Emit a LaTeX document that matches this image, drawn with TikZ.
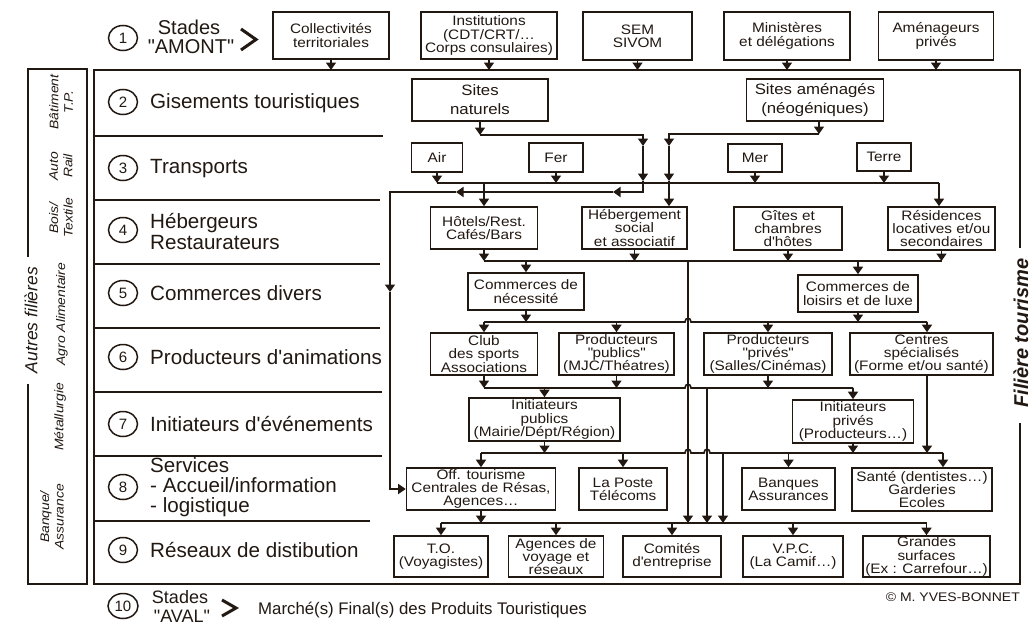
\documentclass[tikz,border=0pt]{standalone}
\usepackage{fontspec}
\setmainfont{Liberation Sans}
\newfontfamily\bxf[FakeStretch=1.12]{Liberation Sans}
\usetikzlibrary{arrows.meta,shapes.geometric}
\definecolor{ink}{RGB}{34,24,18}
\newcommand\apq{\textquotesingle}
\newcommand\dqt{\textquotedbl}
\begin{document}
\begin{tikzpicture}[x=1pt,y=-1pt,line join=miter,
  conn/.style={draw=ink,line width=1.6pt},
  arr/.style={-{Triangle[width=10pt,length=7.5pt]}},
  frame/.style={draw=ink,line width=2.4pt},
  sep/.style={draw=ink,line width=1.5pt},
  bx/.style={draw=ink,line width=1.6pt,inner sep=0pt,align=center,text=ink,
    font=\bxf\fontsize{13.7}{13.3}\selectfont},
  bigbx/.style={bx,font=\bxf\fontsize{15}{19}\selectfont},
  circ/.style={draw=ink,line width=1.5pt,ellipse,minimum width=29pt,minimum height=25pt,
    inner sep=0pt,text=ink,font=\fontsize{15}{15}\selectfont},
  rowlab/.style={anchor=west,inner sep=0pt,text=ink,align=left,
    font=\fontsize{20.6}{20.5}\selectfont},
  stage/.style={inner sep=0pt,text=ink,font=\fontsize{20}{20}\selectfont},
  ind/.style={rotate=90,inner sep=0pt,align=center,text=ink,
    font=\bxf\itshape\fontsize{12.4}{14.5}\selectfont}]
\useasboundingbox (0,0) rectangle (1031,624);
\fill[white] (0,0) rectangle (1031,624);

% horizontal levels of the collector lines
\coordinate (yF) at (0,70);
\coordinate (yN) at (0,135);
\coordinate (yT) at (0,183);
\coordinate (y4) at (0,261);
\coordinate (y5) at (0,322);
\coordinate (y6) at (0,388);
\coordinate (y7) at (0,453);
\coordinate (y8) at (0,523);

% outer frames
\draw[frame] (1020,248) -- (1020,70) -- (94,70) -- (94,584) -- (1020,584) -- (1020,423);
\draw[frame,line width=2pt] (28,257) -- (28,69) -- (87,69) -- (87,584) -- (28,584) -- (28,384);

% row separators
\foreach \y/\xe in {136/383,200/380,264/380,328/380,392/382,456/382,521/370}
  \draw[sep] (94,\y) -- (\xe,\y);

% side titles
\node[rotate=90,inner sep=0pt,text=ink,font=\itshape\fontsize{17.5}{18}\selectfont] (autres) at (31,320) {Autres filières};
\node[rotate=90,inner sep=0pt,text=ink,font=\bfseries\itshape\fontsize{20}{22}\selectfont] (filiere) at (1021,333) {Filière tourisme};

% industry labels
\node[ind] (i1) at (61,102) {Bâtiment\\T.P.};
\node[ind] (i2) at (61,166) {Auto\\Rail};
\node[ind] (i3) at (61,218) {Bois/\\Textile};
\node[ind] (i4) at (62,314) {Agro Alimentaire};
\node[ind] (i5) at (60,417) {Métallurgie};
\node[ind] (i6) at (52,517) {Banque/\\Assurance};

% stage numbers and row titles
\node[circ] (c1) at (123,38) {1};
\node[stage] (am1) at (189,27.5) {Stades};
\node[stage] (am2) at (191,46.5) {\dqt AMONT\dqt};
\draw[ink,line width=3pt] (241,29) -- (256,39.5) -- (241,50);
\node[circ] (c2) at (123,102) {2};
\node[rowlab] (r2) at (150,103) {Gisements touristiques};
\node[circ] (c3) at (123,168) {3};
\node[rowlab] (r3) at (150,169) {Transports};
\node[circ] (c4) at (123,230) {4};
\node[rowlab,font=\fontsize{20.6}{21}\selectfont] (r4) at (150,232) {Hébergeurs\\Restaurateurs};
\node[circ] (c5) at (123,293) {5};
\node[rowlab] (r5) at (150,293) {Commerces divers};
\node[circ] (c6) at (123,357) {6};
\node[rowlab] (r6) at (150,357) {Producteurs d\apq animations};
\node[circ] (c7) at (123,424) {7};
\node[rowlab] (r7) at (150,424) {Initiateurs d\apq événements};
\node[circ] (c8) at (123,487) {8};
\node[rowlab,font=\fontsize{20.6}{20}\selectfont] (r8) at (150,487) {Services\\- Accueil/information\\- logistique};
\node[circ] (c9) at (123,550) {9};
\node[rowlab] (r9) at (150,550) {Réseaux de distibution};
\node[circ,minimum width=30pt] (c10) at (123,606) {10};
\node[stage,font=\fontsize{18}{18}\selectfont] (av1) at (180,597) {Stades};
\node[stage,font=\fontsize{18}{18}\selectfont] (av2) at (182,616) {\dqt AVAL\dqt};
\draw[ink,line width=3pt] (222,600) -- (236,608) -- (222,616);
\node[anchor=west,inner sep=0pt,text=ink,font=\fontsize{16.8}{17}\selectfont] (marche) at (258,610) {Marché(s) Final(s) des Produits Touristiques};
\node[anchor=east,inner sep=0pt,text=ink,font=\bxf\fontsize{12.5}{13}\selectfont] (copy) at (1020,597) {© M. YVES-BONNET};

% upstream actors
\node[bx,minimum width=116pt,minimum height=47pt] (coll) at (331,35.5) {Collectivités\\territoriales};
\node[bx,minimum width=136pt,minimum height=47pt] (inst) at (489,35.5) {Institutions\\(CDT/CRT/…\\Corps consulaires)};
\node[bx,minimum width=109pt,minimum height=48pt] (sem) at (637.5,36) {SEM\\SIVOM};
\node[bx,minimum width=126pt,minimum height=48pt] (mini) at (787,36) {Ministères\\et délégations};
\node[bx,minimum width=115pt,minimum height=48pt] (amenp) at (936,36) {Aménageurs\\privés};

% tourist resources
\node[bigbx,minimum width=136pt,minimum height=42pt] (natur) at (480,100) {Sites\\naturels};
\node[bigbx,minimum width=137pt,minimum height=42pt] (amen2) at (815,100) {Sites aménagés\\(néogéniques)};

% transport
\node[bx,minimum width=51pt,minimum height=29pt] (air) at (437,157.5) {Air};
\node[bx,minimum width=54pt,minimum height=29pt] (fer) at (556,157.5) {Fer};
\node[bx,minimum width=54pt,minimum height=28pt] (mer) at (755,158) {Mer};
\node[bx,minimum width=54pt,minimum height=28pt] (terre) at (884,157) {Terre};

% accommodation
\node[bx,minimum width=107pt,minimum height=42pt] (hotel) at (484,228) {Hôtels/Rest.\\Cafés/Bars};
\node[bx,minimum width=105pt,minimum height=42pt] (hebg) at (634.5,228) {Hébergement\\social\\et associatif};
\node[bx,minimum width=108pt,minimum height=43pt] (gites) at (788,228.5) {Gîtes et\\chambres\\d\apq hôtes};
\node[bx,minimum width=107pt,minimum height=43pt] (resid) at (941.5,228.5) {Résidences\\locatives et/ou\\secondaires};

% trade
\node[bx,minimum width=116pt,minimum height=37pt] (cnec) at (526,291.5) {Commerces de\\nécessité};
\node[bx,minimum width=120pt,minimum height=37pt] (clux) at (858,293.5) {Commerces de\\loisirs et de luxe};

% entertainment producers
\node[bx,minimum width=107pt,minimum height=42pt] (club) at (484,354) {Club\\des sports\\Associations};
\node[bx,minimum width=115pt,minimum height=42pt] (ppub) at (616.5,354) {Producteurs\\\dqt publics\dqt\\(MJC/Théatres)};
\node[bx,minimum width=128pt,minimum height=42pt] (ppriv) at (768,354) {Producteurs\\\dqt privés\dqt\\(Salles/Cinémas)};
\node[bx,minimum width=143pt,minimum height=42pt] (centr) at (921.5,354) {Centres\\spécialisés\\(Forme et/ou santé)};

% event initiators
\node[bx,minimum width=151pt,minimum height=43pt] (ipub) at (544.5,419.5) {Initiateurs\\publics\\(Mairie/Dépt/Région)};
\node[bx,minimum width=121pt,minimum height=43pt] (ipriv) at (853,421.5) {Initiateurs\\privés\\(Producteurs…)};

% services
\node[bx,minimum width=149pt,minimum height=42pt] (offt) at (481,489) {Off. tourisme\\Centrales de Résas,\\Agences…};
\node[bx,minimum width=88pt,minimum height=42pt] (poste) at (623,489) {La Poste\\Télécoms};
\node[bx,minimum width=93pt,minimum height=42pt] (banq) at (788.5,489) {Banques\\Assurances};
\node[bx,minimum width=140pt,minimum height=43pt] (sante) at (922,489.5) {Santé (dentistes…)\\Garderies\\Ecoles};

% distribution networks
\node[bx,minimum width=94pt,minimum height=41pt] (tov) at (441,556.5) {T.O.\\(Voyagistes)};
\node[bx,minimum width=95pt,minimum height=41pt] (agen) at (556,556.5) {Agences de\\voyage et\\réseaux};
\node[bx,minimum width=98pt,minimum height=41pt] (comi) at (672,556.5) {Comités\\d\apq entreprise};
\node[bx,minimum width=100pt,minimum height=41pt] (vpc) at (793,556.5) {V.P.C.\\(La Camif…)};
\node[bx,minimum width=127pt,minimum height=41pt] (grand) at (926.5,556.5) {Grandes\\surfaces\\(Ex : Carrefour…)};

% upstream feeds into the chain
\foreach \n in {coll,inst,sem,mini,amenp} \draw[conn,arr] (\n.south) -- (\n.south |- yF);

% natural sites branch
\coordinate (nR) at (643,135);
\coordinate (nA) at (643,146);
\coordinate (nB) at (643,181);
\coordinate (nL) at (643,192);
\coordinate (lA) at (613,192);
\coordinate (lB) at (456,192);
\coordinate (oW) at (390,192);
\coordinate (oM) at (390,292);
\draw[conn,arr] (natur.south) -- (natur.south |- yN);
\draw[conn,arr] (natur.south |- yN) -- (nR) -- (nA);
\draw[conn,arr] (nA) -- (nB);
\draw[conn,arr] (nB) -- (nL) -- (lA);
\draw[conn,arr] (lA) -- (lB);
\draw[conn,arr] (lB) -- (oW) -- (oM);
\draw[conn,arr] (oM) -- (oM |- offt.west) -- (offt.west);

% planned sites branch
\coordinate (aR) at (819,134);
\coordinate (aL) at (669,134);
\coordinate (aA) at (669,146);
\coordinate (aB) at (669,181);
\draw[conn,arr] (amen2.south -| aR) -- (aR);
\draw[conn,arr] (aR) -- (aL) -- (aA);
\draw[conn,arr] (aA) -- (aB);
\draw[conn,arr] (aB) -- (aB |- hebg.north);

% transport collector
\coordinate (tR) at (939,183);
\draw[conn] (air.south |- yT) -- (tR);
\foreach \n in {air,fer,mer,terre} \draw[conn,arr] (\n.south) -- (\n.south |- yT);
\draw[conn,arr] (tR) -- (tR |- resid.north);
\draw[conn,arr] (hotel.north |- yT) -- (hotel.north);

% accommodation collector
\draw[conn] (hotel.south |- y4) -- (resid.south |- y4);
\foreach \n in {hotel,hebg,gites,resid} \draw[conn,arr] (\n.south) -- (\n.south |- y4);
\draw[conn,arr] (cnec.north |- y4) -- (cnec.north);
\draw[conn,arr] (clux.north |- y4) -- (clux.north);
\coordinate (v1) at (688,261);
\draw[conn,arr] (v1) -- (v1 |- y8);

% trade collector
\coordinate (cX) at (927,0);
\draw[conn] (club.north |- y5) -- (685,322) .. controls (685,317) and (691,317) .. (691,322) -- (cX |- y5);
\foreach \n in {cnec,clux} \draw[conn,arr] (\n.south) -- (\n.south |- y5);
\foreach \n in {club,ppub,ppriv} \draw[conn,arr] (\n.north |- y5) -- (\n.north);
\draw[conn,arr] (cX |- y5) -- (cX |- centr.north);

% producers collector
\draw[conn] (club.south |- y6) -- (685,388) .. controls (685,383) and (691,383) .. (691,388) -- (ipriv.north |- y6);
\foreach \n in {club,ppub,ppriv} \draw[conn,arr] (\n.south) -- (\n.south |- y6);
\foreach \n in {ipub,ipriv} \draw[conn,arr] (\n.north |- y6) -- (\n.north);
\coordinate (v2) at (707,388);
\draw[conn,arr] (v2) -- (v2 |- y8);

% initiators collector
\coordinate (sX) at (943,0);
\draw[conn] (offt.north |- y7) -- (685,453) .. controls (685,448) and (691,448) .. (691,453)
  -- (704,453) .. controls (704,448) and (710,448) .. (710,453) -- (sX |- y7);
\draw[conn,arr] (cX |- centr.south) -- (cX |- y7);
\foreach \n in {ipub,ipriv} \draw[conn,arr] (\n.south) -- (\n.south |- y7);
\foreach \n in {offt,poste,banq} \draw[conn,arr] (\n.north |- y7) -- (\n.north);
\draw[conn,arr] (sX |- y7) -- (sX |- sante.north);
\coordinate (v3) at (723,453);
\draw[conn,arr] (v3) -- (v3 |- y8);

% distribution collector
\draw[conn] (tov.north |- y8) -- (grand.north |- y8);
\draw[conn,arr] (offt.south) -- (offt.south |- y8);
\foreach \n in {tov,agen,comi,vpc,grand} \draw[conn,arr] (\n.north |- y8) -- (\n.north);
\end{tikzpicture}
\end{document}
